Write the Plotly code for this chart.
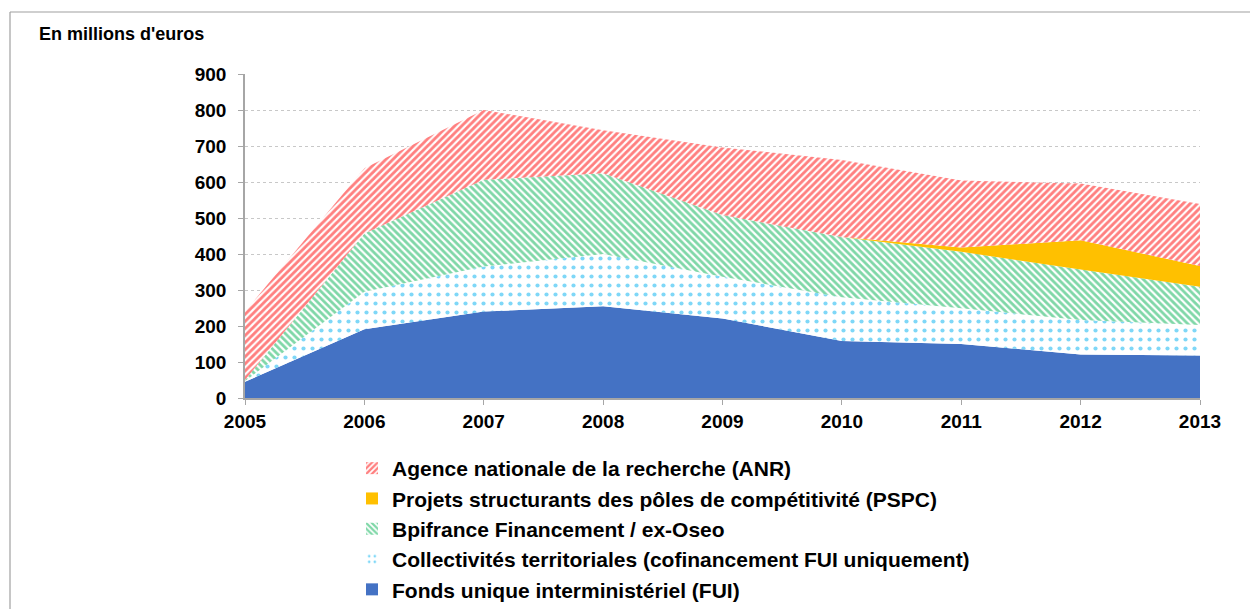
import plotly.graph_objects as go

years = [2005, 2006, 2007, 2008, 2009, 2010, 2011, 2012, 2013]
fui = [45, 191, 240, 255, 221, 158, 150, 121, 118]
collectivites = [2, 104, 125, 145, 116, 122, 99, 96, 85]
bpifrance = [3, 162, 241, 224, 171, 167, 157, 140, 106]
pspc = [0, 0, 0, 0, 0, 0, 12, 81, 58]
anr = [190, 181, 194, 120, 188, 214, 186, 158, 172]

names = {
    "anr": "Agence nationale de la recherche (ANR)",
    "pspc": "Projets structurants des pôles de compétitivité (PSPC)",
    "bpi": "Bpifrance Financement / ex-Oseo",
    "coll": "Collectivités territoriales (cofinancement FUI uniquement)",
    "fui": "Fonds unique interministériel (FUI)",
}
y_ticks = list(range(0, 1000, 100))

OFF = 8  # page body margin
W, H = 1258 - OFF, 609 - OFF
# plot area in screen pixels: x 245..1200, y 74..398
L = 245 - OFF
T = 74 - OFF
R = W - (1200 - OFF)
B = H - (398 - OFF)
pw, ph = W - L - R, H - T - B

def px(x):
    return (x - OFF - L) / pw

def py(y):
    return (H - B - (y - OFF)) / ph

FONT = "Liberation Sans, Arial, sans-serif"

red_pat = dict(shape="/", fgcolor="#FF0000", bgcolor="white", size=5, solidity=0.58)
green_pat = dict(shape="\\", fgcolor="#00B050", bgcolor="white", size=5, solidity=0.55)
blue_pat = dict(shape=".", fgcolor="#00B0F0", bgcolor="white", size=9, solidity=0.17)

series = [
    ("fui", fui, dict(fillcolor="#4472C4"), dict(color="#4472C4")),
    ("coll", collectivites, dict(fillpattern=blue_pat),
     dict(color="white", pattern=dict(blue_pat, size=7))),
    ("bpi", bpifrance, dict(fillpattern=green_pat),
     dict(color="white", pattern=dict(green_pat, size=5))),
    ("pspc", pspc, dict(fillcolor="#FFC000"), dict(color="#FFC000")),
    ("anr", anr, dict(fillpattern=red_pat),
     dict(color="white", pattern=dict(red_pat, size=5))),
]

fig = go.Figure()
for key, vals, fillkw, _ in series:
    fig.add_trace(go.Scatter(
        x=years, y=vals, stackgroup="one", mode="none", name=names[key],
        showlegend=False, hoverinfo="x+y+name", **fillkw))

for key, vals, _, markkw in reversed(series):
    fig.add_trace(go.Bar(
        x=[None], y=[None], name=names[key],
        marker=dict(line=dict(width=0), **markkw), showlegend=True))

fig.update_layout(
    width=W, height=H,
    margin=dict(l=L, r=R, t=T, b=B, autoexpand=False),
    paper_bgcolor="white", plot_bgcolor="white",
    font=dict(family=FONT, size=19, color="black", weight="bold"),
    showlegend=True,
    legend=dict(
        x=px(352), y=py(448), xanchor="left", yanchor="top",
        traceorder="normal",
        font=dict(family=FONT, size=21, color="black", weight="bold"),
        itemwidth=30, bgcolor="rgba(0,0,0,0)",
    ),
    xaxis=dict(
        range=[2005, 2013], tickvals=years, ticktext=[str(y) for y in years],
        showgrid=False, showline=True, linecolor="#A6A6A6", linewidth=1.5,
        ticks="outside", ticklen=5, tickcolor="#A6A6A6", zeroline=False,
        tickfont=dict(family=FONT, size=19, color="black", weight="bold"),
    ),
    yaxis=dict(
        range=[0, 900], tickvals=y_ticks, showgrid=True, gridcolor="#C8C8C8",
        griddash="dot", gridwidth=1, showline=True, linecolor="#A6A6A6", linewidth=1.5,
        ticks="outside", ticklen=5, tickcolor="#A6A6A6", zeroline=False,
        tickfont=dict(family=FONT, size=19, color="black", weight="bold"),
        ticklabelstandoff=8,
    ),
    annotations=[dict(
        text="En millions d'euros", xref="paper", yref="paper",
        x=px(37), y=py(34), xanchor="left", yanchor="middle", showarrow=False,
        font=dict(family=FONT, size=18, color="black", weight="bold"),
    )],
    shapes=[
        dict(type="line", xref="paper", yref="paper", x0=px(10), x1=px(1300),
             y0=py(12), y1=py(12), line=dict(color="#A0A0A0", width=1.2)),
        dict(type="line", xref="paper", yref="paper", x0=px(10), x1=px(10),
             y0=py(12), y1=py(650), line=dict(color="#A0A0A0", width=1.2)),
    ],
)

fig.write_html("out.html")
